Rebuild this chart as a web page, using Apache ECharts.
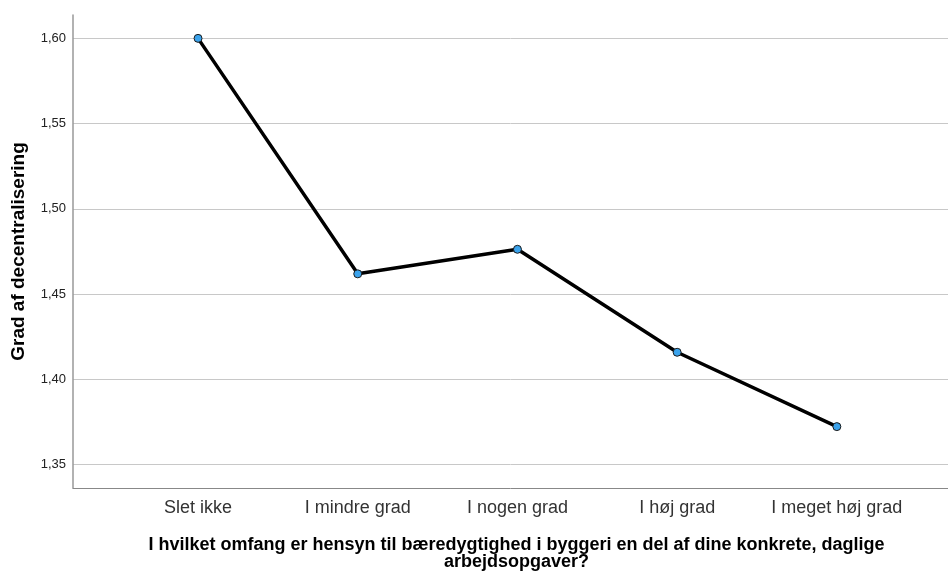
<!DOCTYPE html>
<html>
<head>
<meta charset="utf-8">
<script src="https://cdn.jsdelivr.net/npm/echarts@6/dist/echarts.min.js"></script>
<style>
  html, body { margin: 0; padding: 0; background: #fff; }
  #main { width: 948px; height: 572px; }
</style>
</head>
<body>
<div id="main"></div>
<script>
// kategorier og middelværdier
var categories = ['Slet ikke', 'I mindre grad', 'I nogen grad', 'I høj grad', 'I meget høj grad'];
var values = [1.600, 1.4619, 1.4763, 1.4159, 1.3723];
var yTicks = [1.35, 1.40, 1.45, 1.50, 1.55, 1.60];

var chart = echarts.init(document.getElementById('main'));
var font = 'Arial, "Liberation Sans", sans-serif';

var option = {
    animation: false,
    grid: { left: 73, right: 0, top: 15, bottom: 84, outerBoundsMode: 'none', containLabel: false },
    xAxis: {
        type: 'value',
        min: -0.783,
        max: 4.696,
        name: 'I hvilket omfang er hensyn til bæredygtighed i byggeri en del af dine konkrete, daglige\narbejdsopgaver?',
        nameLocation: 'middle',
        nameGap: 49,
        nameTextStyle: { fontFamily: font, fontSize: 18, fontWeight: 'bold', color: '#000', lineHeight: 17, padding: [0, 0, 0, 12] },
        axisLine: { show: true, onZero: false, lineStyle: { color: '#888', width: 1 } },
        axisTick: { show: false },
        splitLine: { show: false },
        axisLabel: {
            customValues: [0, 1, 2, 3, 4],
            formatter: function (v) { return categories[Math.round(v)]; },
            fontFamily: font,
            fontSize: 18,
            color: '#333',
            margin: 11
        }
    },
    yAxis: {
        type: 'value',
        min: 1.3363,
        max: 1.6137,
        splitNumber: 5,
        name: 'Grad af decentralisering',
        nameLocation: 'middle',
        nameGap: 45,
        nameTextStyle: { fontFamily: font, fontSize: 19, fontWeight: 'bold', color: '#000' },
        axisLine: { show: true, onZero: false, lineStyle: { color: '#999', width: 1.5 } },
        axisTick: { show: false },
        splitLine: { show: true, showMinLine: false, showMaxLine: false, lineStyle: { color: '#c8c8c8', width: 1 } },
        axisLabel: {
            showMinLabel: false,
            showMaxLabel: false,
            fontFamily: font,
            fontSize: 13,
            color: '#222',
            margin: 7,
            formatter: function (v) {
                if (yTicks.indexOf(Math.round(v * 100) / 100) < 0) return '';
                return v.toFixed(2).replace('.', ',');
            }
        }
    },
    series: [{
        type: 'line',
        data: values.map(function (v, i) { return [i, v]; }),
        lineStyle: { color: '#000', width: 3.5 },
        symbol: 'circle',
        symbolSize: 8,
        itemStyle: { color: '#3ba3ec', borderColor: '#1a1a1a', borderWidth: 1 },
        z: 3
    }]
};

chart.setOption(option);
</script>
</body>
</html>
